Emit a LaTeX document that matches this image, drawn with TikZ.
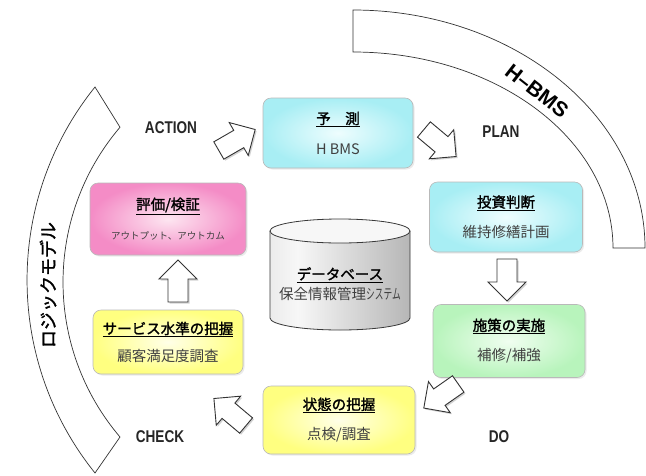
\documentclass[tikz,border=0pt]{standalone}
\usepackage{fontspec}
\usepackage{graphicx}
\setmainfont{Liberation Sans}
\newfontfamily\cjk[AutoFakeBold=1.6]{Noto Sans CJK JP}
\usetikzlibrary{shadows}
\definecolor{cyanO}{HTML}{A8EEF4}
\definecolor{cyanI}{HTML}{EEFDFE}
\definecolor{pinkO}{HTML}{F48CC6}
\definecolor{pinkI}{HTML}{FDE6F1}
\definecolor{yelO}{HTML}{FFFF80}
\definecolor{yelI}{HTML}{FFFFE8}
\definecolor{grnO}{HTML}{B8F4BC}
\definecolor{grnI}{HTML}{F0FEF0}
\definecolor{subtxt}{HTML}{404040}
\definecolor{cylL}{HTML}{CFCFCF}
\definecolor{cylM}{HTML}{F7F7F7}
\definecolor{cylR}{HTML}{8E8E8E}
\pgfdeclarehorizontalshading{cylshade}{100bp}{color(0bp)=(cylL); color(35bp)=(cylM); color(100bp)=(cylR)}
\tikzset{
  box/.style={rectangle, rounded corners=8pt, draw=gray!55, line width=0.6pt,
    minimum width=150pt, minimum height=70pt, inner sep=0pt, align=center,
    font=\cjk\fontsize{14.5}{17}\selectfont,
    drop shadow={shadow xshift=1.5pt, shadow yshift=-1.5pt, fill=gray!30}},
  cyanbox/.style={box, inner color=cyanI, outer color=cyanO},
  pinkbox/.style={box, inner color=pinkI, outer color=pinkO},
  yelbox/.style={box, inner color=yelI, outer color=yelO},
  grnbox/.style={box, inner color=grnI, outer color=grnO},
  band/.style={fill=white, draw=gray!40!black, line width=0.7pt},
  cyclab/.style={font=\fontsize{17}{17}\selectfont\bfseries, text=black!85, inner sep=0pt},
  arrowsty/.style={fill=white, draw=black!80, line width=0.9pt,
    drop shadow={shadow xshift=1.5pt, shadow yshift=-1.5pt, fill=gray!70}},
  barrow/.pic={\path[arrowsty] (-21,-10) -- (2,-10) -- (2,-19) -- (21,0) -- (2,19) -- (2,10) -- (-21,10) -- cycle;}
}
\newcommand{\sub}[1]{{\color{subtxt}#1}}
\newcommand{\ttl}[1]{\textbf{\underline{#1}}}
\begin{document}
\begin{tikzpicture}[x=1pt,y=1pt]
\fill[white] (0,0) rectangle (646,-475);
\useasboundingbox (0,0) rectangle (646,-475);

% left band
\path[band] (95,-87) arc[start angle=141.2,end angle=218.8,radius=308] -- (120,-437) arc[start angle=220.4,end angle=139.6,radius=239] -- cycle;
\node[rotate=90, font=\cjk\fontsize{18}{18}\selectfont\bfseries, inner sep=0pt] (logic) at (48,-285) {ロジックモデル};

% right band
\path[band] (353,-10) arc[start angle=90,end angle=0,x radius=292,y radius=238] -- (613,-248) arc[start angle=0,end angle=90,x radius=260,y radius=196] -- cycle;
\node[rotate=-38, font=\fontsize{21}{21}\selectfont\bfseries, inner sep=0pt] (hbms) at (537,-91) {H–BMS};

% database cylinder
\path[shading=cylshade] (270,-231) -- (270,-318) arc[start angle=180,end angle=360,x radius=70,y radius=12] -- (410,-231) arc[start angle=0,end angle=180,x radius=70,y radius=12] -- cycle;
\draw[gray!45!black, line width=0.8pt] (270,-231) -- (270,-318) arc[start angle=180,end angle=360,x radius=70,y radius=12] -- (410,-231);
\draw[gray!45!black, line width=0.8pt, fill=gray!6] (340,-231) ellipse[x radius=70, y radius=12];
\node[align=center, inner sep=0pt, font=\cjk\fontsize{14.5}{17}\selectfont] (db) at (340,-284)
  {\ttl{データベース}\\[3pt]\sub{保全情報管理\scalebox{0.6}[1]{システム}}};

% boxes
\node[cyanbox] (yosoku) at (338,-133) {\ttl{予　測}\\[13pt]\sub{H BMS}};
\node[pinkbox, minimum width=156pt, minimum height=72pt] (hyoka) at (168,-219)
  {\ttl{評価/検証}\\[13pt]\sub{\fontsize{9.5}{11}\selectfont アウトプット、アウトカム}};
\node[cyanbox, minimum width=153pt] (toshi) at (506,-217) {\ttl{投資判断}\\[13pt]\sub{維持修繕計画}};
\node[yelbox, minimum height=64pt] (service) at (168,-342) {\ttl{サービス水準の把握}\\[10pt]\sub{顧客満足度調査}};
\node[grnbox, minimum width=152pt, minimum height=73pt] (shisaku) at (509,-341) {\ttl{施策の実施}\\[13pt]\sub{補修/補強}};
\node[yelbox, minimum width=152pt, minimum height=68pt] (jotai) at (339,-420) {\ttl{状態の把握}\\[13pt]\sub{点検/調査}};

% block arrows
\pic[rotate=30] at (237,-140) {barrow};
\pic[rotate=-40] at (440,-143) {barrow};
\pic[rotate=-90] at (507,-280) {barrow};
\pic[rotate=-145] at (441,-396) {barrow};
\pic[rotate=140] at (230,-412) {barrow};
\pic[rotate=90] at (178,-281) {barrow};

% cycle labels
\node[cyclab] (act) at (171,-128) {\scalebox{0.8}[1]{ACTION}};
\node[cyclab] (plan) at (501,-132) {\scalebox{0.8}[1]{PLAN}};
\node[cyclab] (chk) at (160,-437) {\scalebox{0.8}[1]{CHECK}};
\node[cyclab] (do) at (499,-437) {\scalebox{0.8}[1]{DO}};
\end{tikzpicture}
\end{document}
